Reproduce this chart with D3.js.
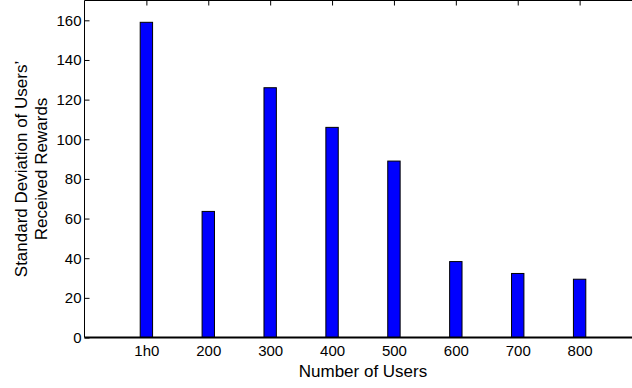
<!DOCTYPE html>
<html>
<head>
<meta charset="utf-8">
<script src="https://cdn.jsdelivr.net/npm/d3@7"></script>
<style>
  html, body { margin: 0; padding: 0; background: #fff; overflow: hidden; }
  svg { display: block; }
  text { font-family: "Liberation Sans", Arial, sans-serif; fill: #000; }
</style>
</head>
<body>
<svg id="chart" width="632" height="388"></svg>
<script>
// Standard deviation of rewards received per user, by number of users
const categories = ["1h0", "200", "300", "400", "500", "600", "700", "800"];
const values = [159, 63.6, 126, 106, 89, 38.3, 32.3, 29.4];
const yTicks = [0, 20, 40, 60, 80, 100, 120, 140, 160];

const svg = d3.select("#chart");
const mLeft = 84.5, mTop = 0.5, plotW = 557, mBottom = 337.5;
const tickFont = "15px", labelFont = "17px";

// Bars sit at integer positions 1..8 on a 0..9 axis
const x = d3.scaleLinear().domain([0, categories.length + 1]).range([mLeft, mLeft + plotW]);
const y = d3.scaleLinear().domain([0, 170]).range([mBottom, mTop]);
const barW = 0.2;

// Axes box (left and top)
svg.append("line").attr("x1", mLeft).attr("x2", mLeft).attr("y1", mTop).attr("y2", mBottom)
  .attr("stroke", "#000").attr("stroke-width", 1);
svg.append("line").attr("x1", mLeft).attr("x2", mLeft + plotW).attr("y1", mTop).attr("y2", mTop)
  .attr("stroke", "#000").attr("stroke-width", 1);

// Y axis, ticks pointing into the plot
const yAxis = svg.append("g").attr("transform", `translate(${mLeft},0)`)
  .call(d3.axisLeft(y).tickValues(yTicks).tickSize(-5).tickPadding(3).tickFormat(d3.format("d")));
yAxis.select(".domain").remove();
yAxis.selectAll("text").style("font-size", tickFont);
yAxis.selectAll(".tick line").attr("stroke", "#000");

// Top tick marks, pointing down into the plot
const xPos = categories.map((c, i) => i + 1);
const topAxis = svg.append("g").attr("transform", `translate(0,${mTop})`)
  .call(d3.axisTop(x).tickValues(xPos).tickSize(-5).tickFormat(""));
topAxis.select(".domain").remove();

// Bars
svg.append("g").selectAll("rect").data(values).join("rect")
  .attr("x", (d, i) => x(i + 1 - barW / 2))
  .attr("width", (d, i) => x(i + 1 + barW / 2) - x(i + 1 - barW / 2))
  .attr("y", d => y(d))
  .attr("height", d => y(0) - y(d))
  .attr("fill", "#0000ff")
  .attr("stroke", "#000")
  .attr("stroke-width", 1);

// Baseline
svg.append("line").attr("x1", mLeft).attr("x2", mLeft + plotW).attr("y1", y(0)).attr("y2", y(0))
  .attr("stroke", "#000").attr("stroke-width", 2);

// X tick labels
const xAxis = svg.append("g").attr("transform", `translate(0,${mBottom})`)
  .call(d3.axisBottom(x).tickValues(xPos).tickSize(0).tickPadding(8)
    .tickFormat((d) => categories[d - 1]));
xAxis.select(".domain").remove();
xAxis.selectAll("text").style("font-size", tickFont);

// Axis titles
svg.append("text").attr("x", mLeft + plotW / 2).attr("y", 377)
  .attr("text-anchor", "middle").style("font-size", labelFont).text("Number of Users");

const yTitle = svg.append("text")
  .attr("transform", `translate(0,${(mTop + mBottom) / 2}) rotate(-90)`)
  .attr("text-anchor", "middle").style("font-size", labelFont);
yTitle.append("tspan").attr("x", 0).attr("y", 27).text("Standard Deviation of Users’");
yTitle.append("tspan").attr("x", 0).attr("y", 47).text("Received Rewards");
</script>
</body>
</html>
